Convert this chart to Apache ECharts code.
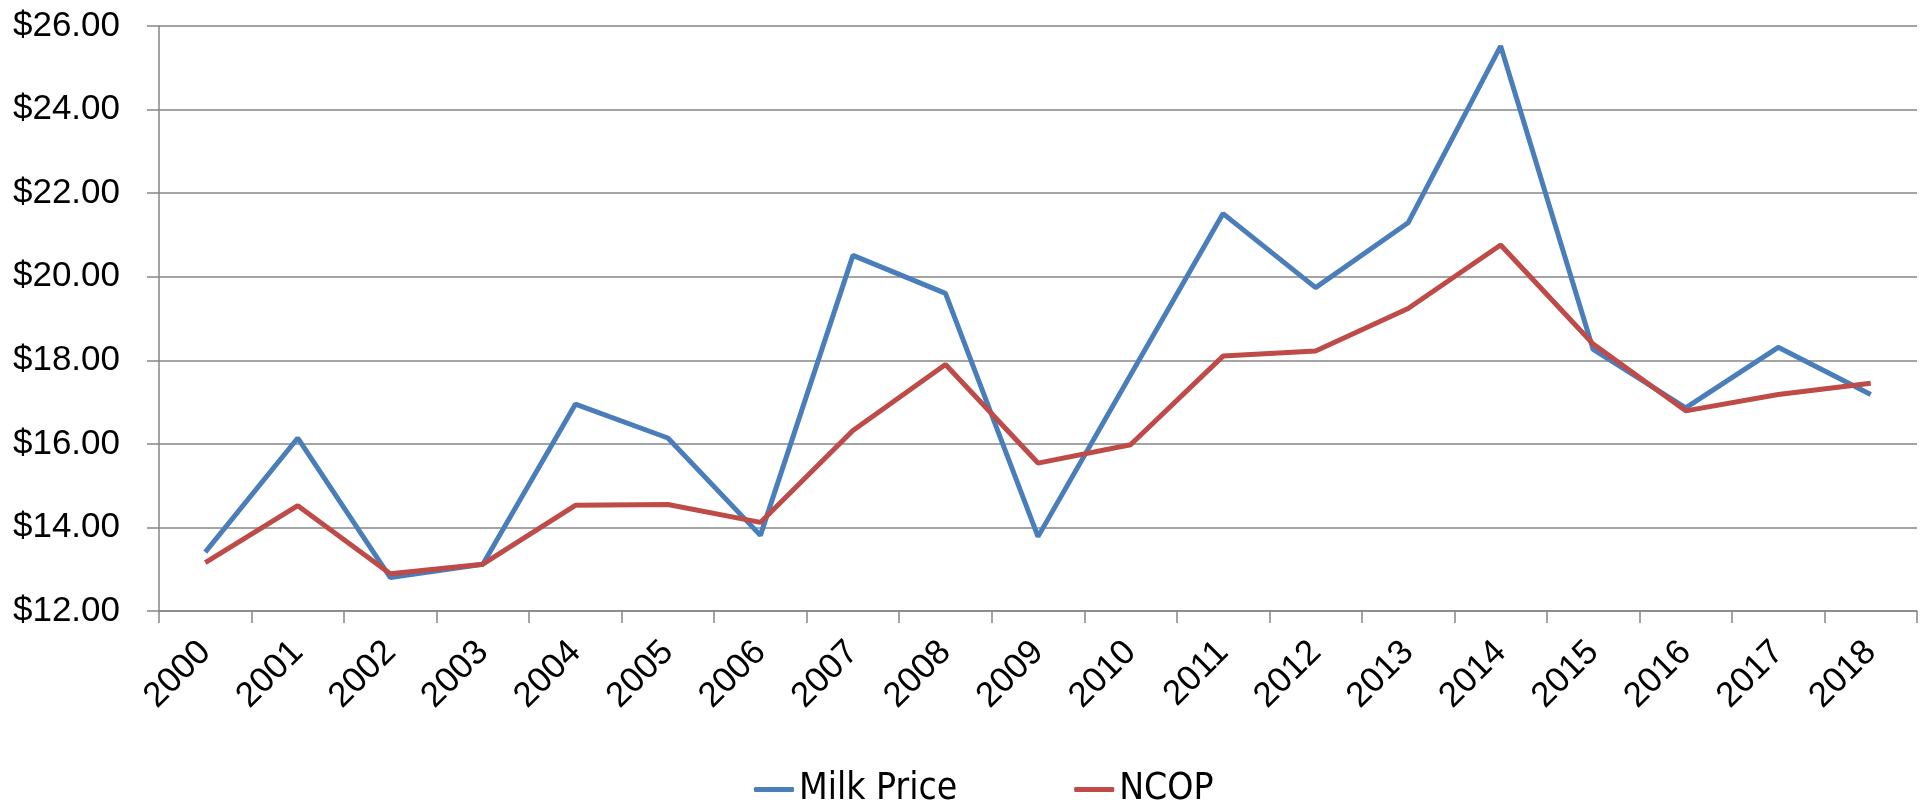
<!DOCTYPE html>
<html>
<head>
<meta charset="utf-8">
<script src="https://cdn.jsdelivr.net/npm/echarts@6/dist/echarts.min.js"></script>
<style>
html,body{margin:0;padding:0;background:#fff;}
#chart{width:1925px;height:807px;}
</style>
</head>
<body>
<div id="chart"></div>
<script>
const years = ['2000','2001','2002','2003','2004','2005','2006','2007','2008','2009','2010','2011','2012','2013','2014','2015','2016','2017','2018'];
const milkPrice = [13.41,16.14,12.80,13.12,16.95,16.14,13.81,20.51,19.60,13.78,17.65,21.51,19.74,21.29,25.52,18.26,16.86,18.31,17.18];
const ncop = [13.16,14.52,12.89,13.12,14.53,14.55,14.12,16.32,17.90,15.54,15.98,18.10,18.22,19.24,20.76,18.39,16.79,17.18,17.45];
const seriesNames = ['Milk Price','NCOP'];
const yMin = 12, yMax = 26, yStep = 2;

const chart = echarts.init(document.getElementById('chart'));
const axisGray = '#868686';
const narrow = '"Liberation Sans Narrow", "DejaVu Sans Condensed", "Liberation Sans", sans-serif';
chart.setOption({
  animation: false,
  backgroundColor: '#ffffff',
  grid: {left: 159, right: 8, top: 26, bottom: 196, containLabel: false},
  legend: {
    data: seriesNames,
    left: 749,
    top: 766,
    itemWidth: 40,
    itemHeight: 5,
    icon: 'roundRect',
    itemGap: 117,
    textStyle: {fontFamily: narrow, fontSize: 37, color: '#000'}
  },
  xAxis: {
    type: 'category',
    data: years,
    boundaryGap: true,
    axisLine: {lineStyle: {color: axisGray, width: 1.5}},
    axisTick: {show: true, length: 12, lineStyle: {color: axisGray, width: 1.5}},
    axisLabel: {rotate: 45, margin: 36, interval: 0, fontFamily: 'Liberation Sans', fontSize: 35, color: '#000'}
  },
  yAxis: {
    type: 'value',
    min: yMin, max: yMax, interval: yStep,
    axisLine: {show: true, lineStyle: {color: axisGray, width: 1.5}},
    axisTick: {show: true, length: 12, lineStyle: {color: axisGray, width: 1.5}},
    splitLine: {lineStyle: {color: axisGray, width: 1.5}},
    axisLabel: {margin: 39, fontFamily: 'Liberation Sans', fontSize: 35, color: '#000',
      formatter: v => '$' + v.toFixed(2)}
  },
  series: [
    {name: seriesNames[0], type: 'line', data: milkPrice, symbol: 'none',
     lineStyle: {color: '#4A7EBB', width: 5}, itemStyle: {color: '#4A7EBB'}},
    {name: seriesNames[1], type: 'line', data: ncop, symbol: 'none',
     lineStyle: {color: '#BE4B48', width: 5}, itemStyle: {color: '#BE4B48'}}
  ]
});
</script>
</body>
</html>
